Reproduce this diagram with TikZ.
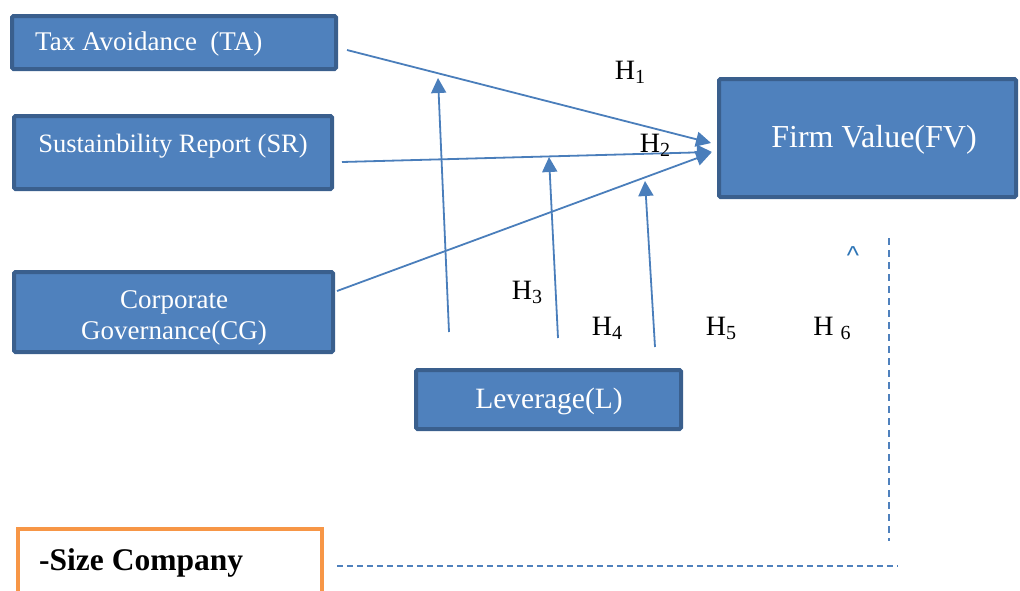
\documentclass[tikz,border=0pt]{standalone}
\usepackage{fontspec}
\setmainfont{Liberation Serif}
\newfontfamily\caretfont{Liberation Sans}
\usetikzlibrary{arrows.meta,calc}
\definecolor{boxfill}{HTML}{4F81BD}
\definecolor{boxline}{HTML}{3A5F8D}
\definecolor{arrowc}{HTML}{4A7EBB}
\definecolor{orangec}{HTML}{F79646}
\definecolor{caretc}{HTML}{2E75B6}
\tikzset{
  box/.style={draw=boxline, fill=boxfill, line width=4pt, rounded corners=1.5pt, inner sep=0pt},
  boxtext/.style={text=white, inner sep=0pt, align=center},
  hyp/.style={inner sep=0pt, font=\fontsize{28}{28}\selectfont},
  conn/.style={draw=arrowc, line width=1.8pt, -{Triangle[length=15pt,width=15pt]}},
  dashline/.style={draw=boxfill, line width=1.3pt, dash pattern=on 7pt off 5pt},
}
\newcommand{\sub}[1]{\raisebox{-4pt}{\fontsize{20}{20}\selectfont #1}}
\begin{document}
\begin{tikzpicture}[x=1pt,y=-1pt]
\useasboundingbox (0,0) rectangle (1020,590);
\clip (0,0) rectangle (1020,590);
% boxes
\node[box, minimum width=324pt, minimum height=53pt] (ta) at (174,42.5) {};
\node[boxtext, anchor=west, font=\fontsize{27}{27}\selectfont] (tat) at (35,44) {Tax Avoidance\ \ (TA)};
\node[box, minimum width=318pt, minimum height=73pt] (sr) at (173,152.5) {};
\node[boxtext, font=\fontsize{26.5}{26.5}\selectfont] (srt) at (173,146) {Sustainbility Report (SR)};
\node[box, minimum width=319pt, minimum height=80pt] (cg) at (173.5,312) {};
\node[boxtext, font=\fontsize{27}{31}\selectfont] (cgt) at (174,318) {Corporate\\Governance(CG)};
\node[box, minimum width=297pt, minimum height=118pt] (fv) at (867.5,138) {};
\node[boxtext, font=\fontsize{32}{32}\selectfont] (fvt) at (874,140) {Firm Value(FV)};
\node[box, minimum width=265pt, minimum height=59pt] (lev) at (548.5,399.5) {};
\node[boxtext, font=\fontsize{29.5}{29.5}\selectfont] (levt) at (549,401) {Leverage(L)};
\node[draw=orangec, line width=4pt, minimum width=304pt, minimum height=100pt, inner sep=0pt] (size) at (170,579) {};
\node[inner sep=0pt, anchor=west, font=\fontsize{31.5}{31.5}\selectfont\bfseries] (sizet) at (39,563) {-Size Company};
% connectors to FV
\draw[conn] ($(ta.east)+(9,7.5)$) -- ($(fv.west)+(-6,5)$);
\draw[conn] ($(sr.east)+(8,9.5)$) -- ($(fv.west)+(-5,14)$);
\draw[conn] ($(cg.east)+(2,-21)$) -- ($(fv.west)+(-6,15)$);
% moderating arrows
\coordinate (m1) at (449,332);
\coordinate (m2) at (558,338);
\coordinate (m3) at (655,347);
\coordinate (t1) at (438,78);
\coordinate (t2) at (549,157);
\coordinate (t3) at (645,181);
\draw[conn] (m1) -- (t1);
\draw[conn] (m2) -- (t2);
\draw[conn] (m3) -- (t3);
% hypothesis labels
\node[hyp] (h1) at (630,72) {H\sub{1}};
\node[hyp] (h2) at (655,145) {H\sub{2}};
\node[hyp] (h3) at (527,292) {H\sub{3}};
\node[hyp] (h4) at (607,328) {H\sub{4}};
\node[hyp] (h5) at (721,328) {H\sub{5}};
\node[hyp] (h6) at (832,328) {H \sub{6}};
\node[inner sep=0pt, text=caretc, font=\caretfont\fontsize{26}{26}\selectfont] (caret) at (853,256) {\textasciicircum};
% dashed lines
\coordinate (d1) at (889,238);
\coordinate (d2) at (889,541);
\coordinate (d3) at (898,566);
\draw[dashline] (d1) -- (d2);
\draw[dashline, dash pattern=on 6pt off 4pt] ($(size.east)+(13,-13)$) -- (d3);
\end{tikzpicture}
\end{document}
